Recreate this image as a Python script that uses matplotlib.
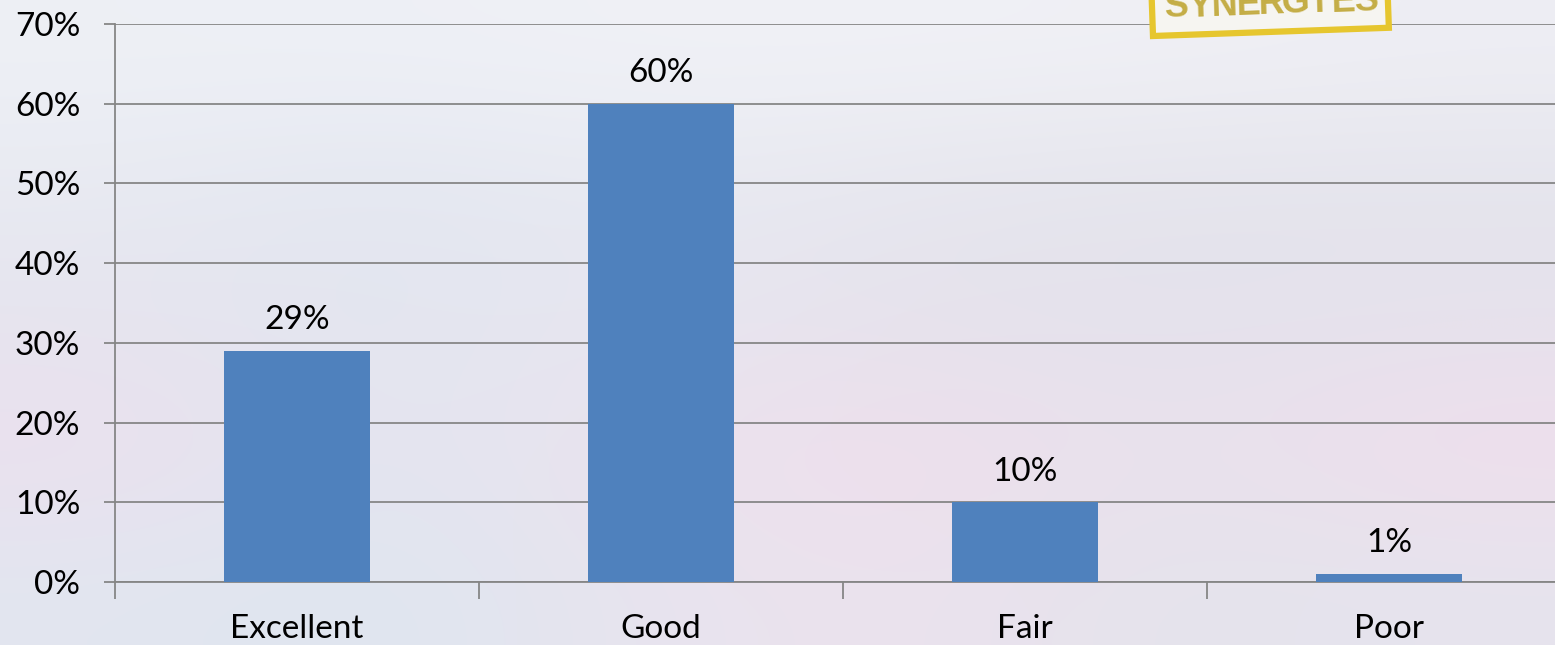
import numpy as np
import matplotlib
matplotlib.use("Agg")
import matplotlib.pyplot as plt
from matplotlib.patches import Rectangle
from matplotlib.ticker import PercentFormatter

categorias = ["Excellent", "Good", "Fair", "Poor"]
porcentajes = [29, 60, 10, 1]
etiquetas = ["29%", "60%", "10%", "1%"]
logo = "SYNERGIES"

plt.rcParams['font.family'] = ['Lato', 'DejaVu Sans']

fig = plt.figure(figsize=(15.55, 6.45), dpi=100)

# fondo degradado suave
bg = fig.add_axes([0, 0, 1, 1], zorder=-10)
colores_fondo = np.array([
    [[238, 240, 245], [238, 240, 246], [240, 241, 246], [240, 241, 246], [240, 240, 245], [238, 238, 244]],
    [[232, 234, 242], [226, 230, 240], [232, 234, 242], [230, 230, 238], [228, 228, 236], [228, 228, 236]],
    [[230, 228, 238], [226, 230, 240], [232, 230, 240], [230, 226, 236], [228, 226, 236], [230, 226, 236]],
    [[236, 224, 238], [226, 230, 240], [236, 226, 238], [240, 222, 236], [232, 226, 236], [240, 222, 236]],
    [[226, 230, 240], [222, 230, 240], [232, 228, 238], [236, 226, 238], [228, 228, 236], [230, 228, 238]],
]) / 255.0
bg.imshow(colores_fondo, aspect='auto', interpolation='bicubic', extent=[0, 1, 0, 1])
bg.axis('off')

# logo recortado arriba a la derecha (coordenadas en pixeles)
fig.add_artist(Rectangle((1153, 609), 236, 60, angle=2.0, transform=None,
                         fc='#f6f5f1', ec='#e6c62e', lw=4.5, zorder=1))
xs_logo = np.linspace(1177, 1367, len(logo))
for xl, letra in zip(xs_logo, logo):
    yl = 628 + (xl - 1177) * np.tan(np.radians(2.0))
    fig.text(xl / 1555, yl / 645, letra, color="#c4ad45", fontsize=26, fontweight='bold',
             family='Liberation Sans', ha='center', va='baseline',
             rotation=2.0, rotation_mode='anchor', zorder=2)

left = 115 / 1555
right = 1571 / 1555
bottom = (645 - 582) / 645
top = (645 - 24) / 645
ax = fig.add_axes([left, bottom, right - left, top - bottom])
ax.patch.set_alpha(0)

x = np.arange(len(categorias))
ax.bar(x, porcentajes, width=0.4, color="#4f81bd", zorder=3)

for xi, v, t in zip(x, porcentajes, etiquetas):
    ax.annotate(t, (xi, v), xytext=(0, 22), textcoords='offset points',
                ha='center', va='center', fontsize=24, color='black')

ax.set_xlim(-0.5, 3.5)
ax.set_ylim(0, 70)
ax.set_yticks(range(0, 71, 10))
ax.yaxis.set_major_formatter(PercentFormatter(decimals=0))
ax.grid(axis='y', color='#868686', linewidth=1.3, zorder=1)

ax.set_xticks(np.arange(-0.5, 3.6, 1))
ax.set_xticklabels([])
ax.set_xticks(x, minor=True)
ax.set_xticklabels(categorias, minor=True)
ax.tick_params(axis='x', which='major', length=12, color='#868686', width=1.3)
ax.tick_params(axis='x', which='minor', length=0, pad=23, labelsize=24)
ax.tick_params(axis='y', length=8, color='#868686', width=1.3, labelsize=24, pad=17)

for s in ['top', 'right']:
    ax.spines[s].set_visible(False)
for s in ['left', 'bottom']:
    ax.spines[s].set_color('#868686')
    ax.spines[s].set_linewidth(1.3)

fig.savefig("out.png", dpi=100)
